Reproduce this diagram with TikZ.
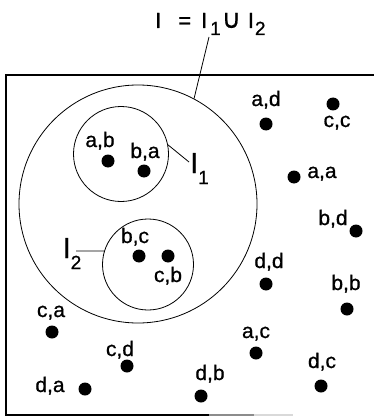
\documentclass[tikz,border=0pt]{standalone}
\usepackage{fontspec}
\setmainfont{Liberation Sans}[FakeBold=0.8]
\newfontfamily\symfont{DejaVu Sans}[FakeBold=0.8]
\usetikzlibrary{positioning}
\tikzset{
  frame/.style={line width=1.6pt, line cap=rect},
  setring/.style={circle, draw, line width=0.8pt, inner sep=0pt},
  elem/.style={circle, fill=black, inner sep=0pt, minimum size=13pt},
  pair/.style={anchor=base, inner sep=0pt, font=\fontsize{21}{21}\selectfont},
  setname/.style={anchor=base west, inner sep=0pt, font=\fontsize{29}{29}\selectfont},
  lead/.style={line width=0.8pt},
}
\newcommand{\lowsub}[2]{\raisebox{-#1}{\fontsize{19}{19}\selectfont #2}}

\begin{document}
\begin{tikzpicture}[x=1pt, y=-1pt]
  \useasboundingbox (0,0) rectangle (374,417);
  % frame of all pairs
  \draw[frame] (374,75) -- (6,75) -- (6,415) -- (210,415);
  \draw[frame, black!45] (210,415) -- (255,415);
  \draw[frame, black!15] (255,415) -- (292,415);
  % the sets
  \node[setring, minimum size=238pt] (I) at (138,204) {};
  \node[setring, minimum size=95pt] (I1) at (121,154) {};
  \node[setring, minimum size=91pt] (I2) at (148,264.5) {};
  % names of the sets
  \node[anchor=base west, inner sep=0pt, font=\fontsize{22}{22}\selectfont] (title) at (155,28)
    {I\hspace{17pt}=\hspace{10pt}I\hspace{3pt}\lowsub{7pt}{1}\hspace{1pt}{\symfont\fontsize{26}{26}\selectfont ∪}\hspace{7pt}I\hspace{1pt}\lowsub{7pt}{2}};
  \node[setname] (nI1) at (190,173) {I\lowsub{11pt}{1}};
  \node[setname] (nI2) at (62.5,258) {I\lowsub{11pt}{2}};
  \coordinate (tI) at (209,37);
  \coordinate (tI1) at (189,162);
  \coordinate (tI2) at (76,251);
  \draw[lead] (I.62) -- (tI);
  \draw[lead] (I1.11) -- (tI1);
  \draw[lead] (I2.163) -- (tI2);
  % elements
  \node[elem] (ab) at (108,161) {};
  \node[pair] (lab) at (100,147) {a,b};
  \node[elem] (ba) at (144,171) {};
  \node[pair] (lba) at (145,158) {b,a};
  \node[elem] (bc) at (139,256) {};
  \node[pair] (lbc) at (135,243) {b,c};
  \node[elem] (cb) at (168,256) {};
  \node[pair] (lcb) at (168,282) {c,b};
  \node[elem] (ad) at (266,124) {};
  \node[pair] (lad) at (266,106) {a,d};
  \node[elem] (cc) at (333,104) {};
  \node[pair] (lcc) at (337,127) {c,c};
  \node[elem] (aa) at (294,177) {};
  \node[pair] (laa) at (322,178) {a,a};
  \node[elem] (bd) at (356,231) {};
  \node[pair] (lbd) at (333,225) {b,d};
  \node[elem] (dd) at (266,284) {};
  \node[pair] (ldd) at (269,268) {d,d};
  \node[elem] (bb) at (347,309) {};
  \node[pair] (lbb) at (346,290) {b,b};
  \node[elem] (ca) at (52,332) {};
  \node[pair] (lca) at (51,317) {c,a};
  \node[elem] (ac) at (256,353) {};
  \node[pair] (lac) at (256,338) {a,c};
  \node[elem] (cd) at (127,366) {};
  \node[pair] (lcd) at (120,356) {c,d};
  \node[elem] (db) at (201,396) {};
  \node[pair] (ldb) at (210,380) {d,b};
  \node[elem] (dc) at (321,386) {};
  \node[pair] (ldc) at (322,368) {d,c};
  \node[elem] (da) at (85,389) {};
  \node[pair] (lda) at (50,392) {d,a};
\end{tikzpicture}
\end{document}
